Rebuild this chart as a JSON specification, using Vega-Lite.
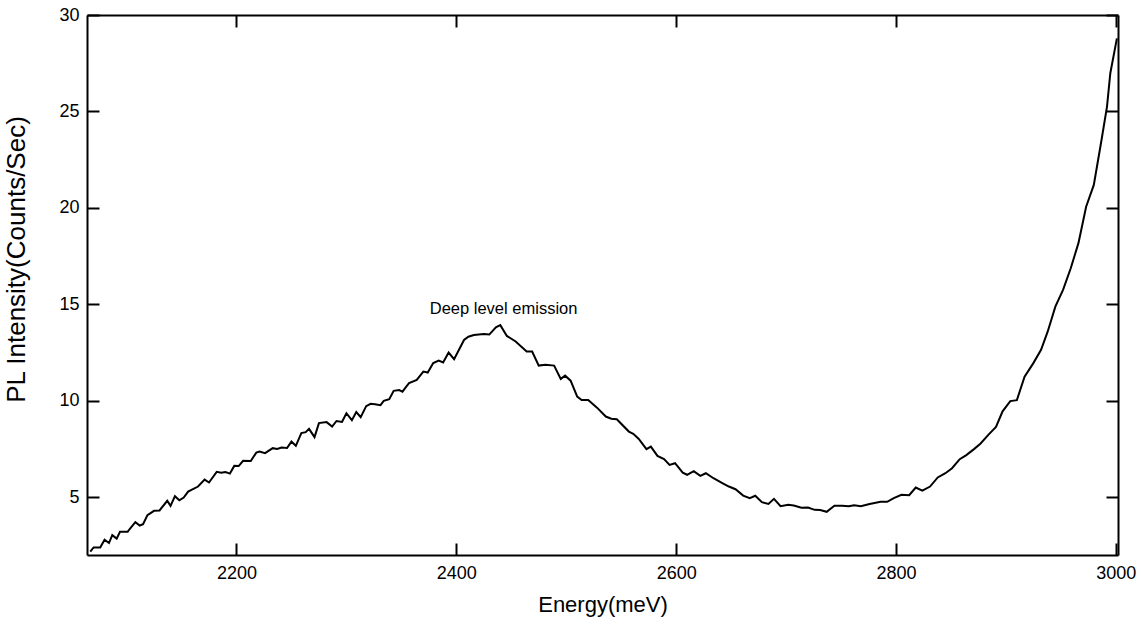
{
  "$schema": "https://vega.github.io/schema/vega-lite/v6.json",
  "width": 1031,
  "height": 540,
  "autosize": {"type": "none"},
  "padding": {"left": 87, "top": 15, "right": 23, "bottom": 74},
  "background": "white",
  "config": {
    "view": {"stroke": null},
    "font": "Liberation Sans",
    "axis": {
      "domainColor": "black",
      "domainWidth": 2,
      "tickColor": "black",
      "tickWidth": 2,
      "tickSize": -12,
      "grid": false,
      "labelColor": "black",
      "labelFont": "Liberation Sans",
      "labelFontSize": 18,
      "titleFont": "Liberation Sans",
      "titleFontSize": 22,
      "titleFontWeight": "normal",
      "titleColor": "black"
    }
  },
  "datasets": {
    "pl": [
      {"energy": 2067, "intensity": 2.18}, {"energy": 2070, "intensity": 2.39}, {"energy": 2076, "intensity": 2.39},
      {"energy": 2080, "intensity": 2.79}, {"energy": 2084, "intensity": 2.62}, {"energy": 2087, "intensity": 3.03},
      {"energy": 2091, "intensity": 2.85}, {"energy": 2094, "intensity": 3.2}, {"energy": 2101, "intensity": 3.2},
      {"energy": 2103, "intensity": 3.36}, {"energy": 2108, "intensity": 3.7}, {"energy": 2112, "intensity": 3.53},
      {"energy": 2115, "intensity": 3.6}, {"energy": 2119, "intensity": 4.07}, {"energy": 2125, "intensity": 4.29},
      {"energy": 2130, "intensity": 4.31}, {"energy": 2137, "intensity": 4.81}, {"energy": 2140, "intensity": 4.55},
      {"energy": 2144, "intensity": 5.05}, {"energy": 2148, "intensity": 4.84}, {"energy": 2152, "intensity": 4.98},
      {"energy": 2156, "intensity": 5.29}, {"energy": 2165, "intensity": 5.55}, {"energy": 2171, "intensity": 5.91},
      {"energy": 2175, "intensity": 5.76}, {"energy": 2182, "intensity": 6.31}, {"energy": 2186, "intensity": 6.26},
      {"energy": 2190, "intensity": 6.3}, {"energy": 2194, "intensity": 6.22}, {"energy": 2198, "intensity": 6.62},
      {"energy": 2202, "intensity": 6.61}, {"energy": 2206, "intensity": 6.88}, {"energy": 2213, "intensity": 6.87},
      {"energy": 2218, "intensity": 7.31}, {"energy": 2221, "intensity": 7.36}, {"energy": 2226, "intensity": 7.28},
      {"energy": 2233, "intensity": 7.54}, {"energy": 2237, "intensity": 7.5}, {"energy": 2241, "intensity": 7.57},
      {"energy": 2246, "intensity": 7.55}, {"energy": 2250, "intensity": 7.88}, {"energy": 2254, "intensity": 7.66},
      {"energy": 2259, "intensity": 8.32}, {"energy": 2263, "intensity": 8.37}, {"energy": 2266, "intensity": 8.54},
      {"energy": 2271, "intensity": 8.11}, {"energy": 2275, "intensity": 8.84}, {"energy": 2282, "intensity": 8.89},
      {"energy": 2287, "intensity": 8.66}, {"energy": 2291, "intensity": 8.95}, {"energy": 2296, "intensity": 8.9},
      {"energy": 2300, "intensity": 9.35}, {"energy": 2305, "intensity": 8.99}, {"energy": 2309, "intensity": 9.41},
      {"energy": 2313, "intensity": 9.15}, {"energy": 2318, "intensity": 9.72}, {"energy": 2322, "intensity": 9.84},
      {"energy": 2326, "intensity": 9.82}, {"energy": 2331, "intensity": 9.77}, {"energy": 2334, "intensity": 9.99},
      {"energy": 2339, "intensity": 10.08}, {"energy": 2343, "intensity": 10.51}, {"energy": 2348, "intensity": 10.55},
      {"energy": 2351, "intensity": 10.47}, {"energy": 2355, "intensity": 10.77}, {"energy": 2357, "intensity": 10.91},
      {"energy": 2364, "intensity": 11.08}, {"energy": 2370, "intensity": 11.51}, {"energy": 2374, "intensity": 11.46},
      {"energy": 2379, "intensity": 11.95}, {"energy": 2384, "intensity": 12.08}, {"energy": 2388, "intensity": 11.98},
      {"energy": 2393, "intensity": 12.5}, {"energy": 2398, "intensity": 12.15}, {"energy": 2407, "intensity": 13.15},
      {"energy": 2411, "intensity": 13.32}, {"energy": 2416, "intensity": 13.41}, {"energy": 2425, "intensity": 13.46},
      {"energy": 2430, "intensity": 13.43}, {"energy": 2436, "intensity": 13.81}, {"energy": 2440, "intensity": 13.92},
      {"energy": 2446, "intensity": 13.36}, {"energy": 2454, "intensity": 13.07}, {"energy": 2464, "intensity": 12.55},
      {"energy": 2469, "intensity": 12.55}, {"energy": 2475, "intensity": 11.82}, {"energy": 2481, "intensity": 11.86},
      {"energy": 2489, "intensity": 11.82}, {"energy": 2495, "intensity": 11.13}, {"energy": 2499, "intensity": 11.3},
      {"energy": 2504, "intensity": 11.04}, {"energy": 2510, "intensity": 10.21}, {"energy": 2514, "intensity": 10.04},
      {"energy": 2520, "intensity": 10.04}, {"energy": 2528, "intensity": 9.64}, {"energy": 2536, "intensity": 9.18},
      {"energy": 2541, "intensity": 9.07}, {"energy": 2546, "intensity": 9.04}, {"energy": 2557, "intensity": 8.4},
      {"energy": 2561, "intensity": 8.28}, {"energy": 2566, "intensity": 8.02}, {"energy": 2573, "intensity": 7.49},
      {"energy": 2577, "intensity": 7.62}, {"energy": 2583, "intensity": 7.14}, {"energy": 2589, "intensity": 6.97},
      {"energy": 2594, "intensity": 6.67}, {"energy": 2599, "intensity": 6.76}, {"energy": 2606, "intensity": 6.27},
      {"energy": 2610, "intensity": 6.16}, {"energy": 2616, "intensity": 6.35}, {"energy": 2622, "intensity": 6.1},
      {"energy": 2627, "intensity": 6.24}, {"energy": 2634, "intensity": 5.98}, {"energy": 2642, "intensity": 5.73},
      {"energy": 2648, "intensity": 5.55}, {"energy": 2654, "intensity": 5.41}, {"energy": 2661, "intensity": 5.08},
      {"energy": 2667, "intensity": 4.95}, {"energy": 2672, "intensity": 5.07}, {"energy": 2678, "intensity": 4.74},
      {"energy": 2684, "intensity": 4.65}, {"energy": 2689, "intensity": 4.91}, {"energy": 2695, "intensity": 4.53},
      {"energy": 2702, "intensity": 4.6}, {"energy": 2707, "intensity": 4.57}, {"energy": 2714, "intensity": 4.45},
      {"energy": 2720, "intensity": 4.46}, {"energy": 2726, "intensity": 4.34}, {"energy": 2731, "intensity": 4.33},
      {"energy": 2737, "intensity": 4.24}, {"energy": 2744, "intensity": 4.56}, {"energy": 2751, "intensity": 4.56},
      {"energy": 2757, "intensity": 4.53}, {"energy": 2762, "intensity": 4.58}, {"energy": 2768, "intensity": 4.53},
      {"energy": 2776, "intensity": 4.64}, {"energy": 2786, "intensity": 4.76}, {"energy": 2792, "intensity": 4.76},
      {"energy": 2798, "intensity": 4.95}, {"energy": 2805, "intensity": 5.12}, {"energy": 2812, "intensity": 5.1},
      {"energy": 2818, "intensity": 5.5}, {"energy": 2824, "intensity": 5.34}, {"energy": 2831, "intensity": 5.55},
      {"energy": 2838, "intensity": 6.02}, {"energy": 2845, "intensity": 6.24}, {"energy": 2851, "intensity": 6.5},
      {"energy": 2858, "intensity": 6.97}, {"energy": 2864, "intensity": 7.18}, {"energy": 2871, "intensity": 7.49},
      {"energy": 2877, "intensity": 7.78}, {"energy": 2884, "intensity": 8.23}, {"energy": 2891, "intensity": 8.64},
      {"energy": 2897, "intensity": 9.45}, {"energy": 2904, "intensity": 9.98}, {"energy": 2910, "intensity": 10.03},
      {"energy": 2917, "intensity": 11.25}, {"energy": 2925, "intensity": 11.95}, {"energy": 2932, "intensity": 12.64},
      {"energy": 2938, "intensity": 13.58}, {"energy": 2945, "intensity": 14.88}, {"energy": 2952, "intensity": 15.75},
      {"energy": 2959, "intensity": 16.87}, {"energy": 2966, "intensity": 18.17}, {"energy": 2973, "intensity": 20.06},
      {"energy": 2980, "intensity": 21.19}, {"energy": 2987, "intensity": 23.52}, {"energy": 2992, "intensity": 25.25},
      {"energy": 2995, "intensity": 26.98}, {"energy": 3001, "intensity": 28.79}
    ],
    "ann": [
      {"energy": 2443, "intensity": 14.76, "label": "Deep level emission"}
    ]
  },
  "layer": [
    {
      "data": {"name": "pl"},
      "mark": {"type": "line", "color": "black", "strokeWidth": 2, "clip": true},
      "encoding": {
        "x": {
          "field": "energy", "type": "quantitative",
          "scale": {"domain": [2064, 3002], "nice": false, "zero": false},
          "axis": {"orient": "bottom", "values": [2200, 2400, 2600, 2800, 3000], "format": "d", "title": "Energy(meV)", "labelPadding": 21, "titlePadding": 12}
        },
        "y": {
          "field": "intensity", "type": "quantitative",
          "scale": {"domain": [2, 30], "nice": false, "zero": false},
          "axis": {"orient": "left", "values": [5, 10, 15, 20, 25, 30], "format": "d", "title": "PL Intensity(Counts/Sec)", "titleFontSize": 26, "titleY": 244, "labelPadding": 20, "titlePadding": 29}
        }
      }
    },
    {
      "data": {"name": "ann"},
      "mark": {"type": "text", "font": "Liberation Sans", "fontSize": 16.5, "color": "black", "baseline": "middle", "align": "center"},
      "encoding": {
        "x": {"field": "energy", "type": "quantitative", "axis": null},
        "y": {"field": "intensity", "type": "quantitative", "axis": null},
        "text": {"field": "label"}
      }
    },
    {
      "data": {"name": "pl"},
      "mark": {"type": "line", "opacity": 0},
      "encoding": {
        "x": {"field": "energy", "type": "quantitative",
          "axis": {"orient": "top", "values": [2200, 2400, 2600, 2800, 3000], "labels": false, "title": null}},
        "y": {"field": "intensity", "type": "quantitative",
          "axis": {"orient": "right", "values": [5, 10, 15, 20, 25, 30], "labels": false, "title": null}}
      }
    }
  ],
  "resolve": {"axis": {"x": "independent", "y": "independent"}}
}
